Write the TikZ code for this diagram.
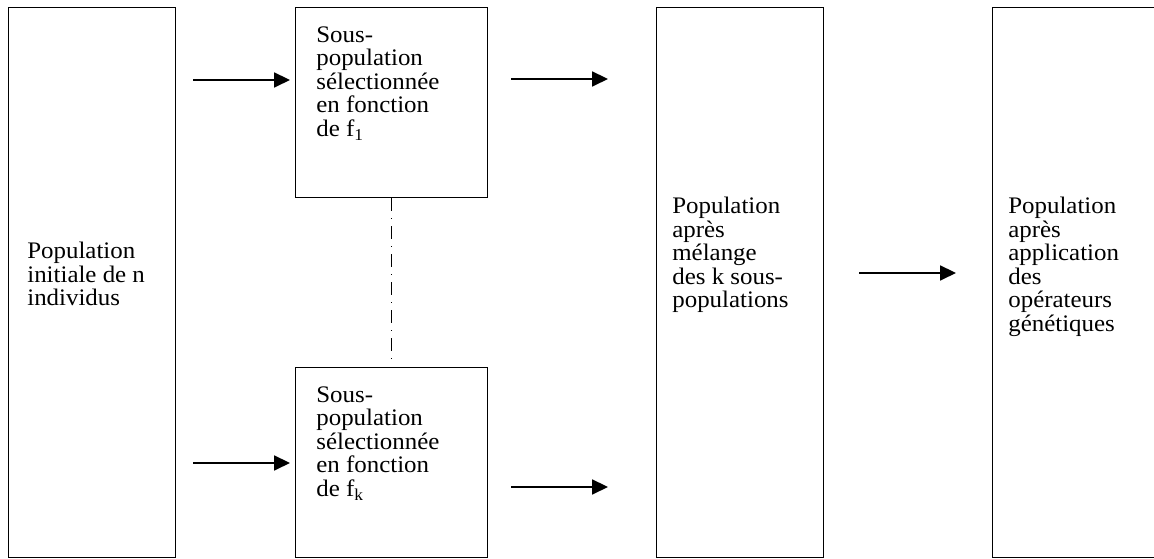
\documentclass[tikz,border=0pt]{standalone}
\usepackage{fontspec}
\setmainfont[FakeStretch=1.05]{Liberation Serif}
\usetikzlibrary{arrows.meta,positioning}
\tikzset{>={Triangle[length=9pt,width=8.5pt]}}
\tikzset{
  box/.style={draw,line width=0.6pt,rectangle,minimum width=3.34cm,inner sep=0pt},
  txt/.style={anchor=north west,inner sep=0pt,align=left,font=\fontsize{13.5}{13.4}\selectfont},
  flow/.style={->,line width=0.9pt}
}

\begin{document}
\begin{tikzpicture}
            \clip (0,0) rectangle (23.08,11.18);
            % Boxes
            \node [box,minimum height=11cm,anchor=north west] (init) at (0.16,11.04) {};
            \node [box,minimum width=3.84cm,minimum height=3.8cm,anchor=north west] (sub1) at (5.9,11.04) {};
            \node [box,minimum width=3.84cm,minimum height=3.8cm,anchor=north west] (subk) at (5.9,3.84) {};
            \node [box,minimum height=11cm,anchor=north west] (mix) at (13.12,11.04) {};
            \node [box,minimum height=11cm,anchor=north west] (gen) at (19.84,11.04) {};

            % Texts
            \node [txt] (tinit) at (0.54,6.34) {Population\\initiale de n\\individus};
            \node [txt] (tsub1) at (6.32,10.66) {Sous-\\population\\sélectionnée\\en fonction\\de f\textsubscript{1}};
            \node [txt] (tsubk) at (6.32,3.46) {Sous-\\population\\sélectionnée\\en fonction\\de f\textsubscript{k}};
            \node [txt] (tmix) at (13.44,7.24) {Population\\après\\mélange\\des k sous-\\populations};
            \node [txt] (tgen) at (20.16,7.24) {Population\\après\\application\\des\\opérateurs\\génétiques};

            % Arrows
            \coordinate (a1) at (3.86,9.58);  \coordinate (b1) at (5.8,9.58);
            \coordinate (a2) at (3.86,1.92);  \coordinate (b2) at (5.8,1.92);
            \coordinate (a3) at (10.22,9.6); \coordinate (b3) at (12.16,9.6);
            \coordinate (a4) at (10.22,1.44); \coordinate (b4) at (12.16,1.44);
            \coordinate (a5) at (17.18,5.72); \coordinate (b5) at (19.12,5.72);
            \draw [flow] (a1) -- (b1);
            \draw [flow] (a2) -- (b2);
            \draw [flow] (a3) -- (b3);
            \draw [flow] (a4) -- (b4);
            \draw [flow] (a5) -- (b5);

            \draw [line width=0.6pt,dash pattern=on 0.26cm off 0.14cm on 0.02cm off 0.14cm]
                  (sub1.south) -- ([yshift=0.1cm]subk.north);
        \end{tikzpicture}
\end{document}
